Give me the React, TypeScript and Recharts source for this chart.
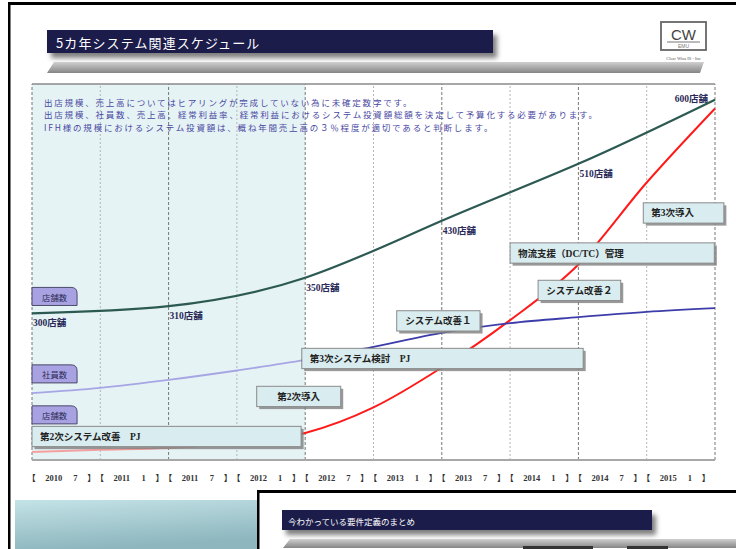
import React from "react";
import {
  ComposedChart,
  Line,
  XAxis,
  YAxis,
  ReferenceArea,
  ReferenceLine,
  LabelList,
} from "recharts";

// half-year points, 2010/7 .. 2015/7
const periods = [
  "2010 7", "2011 1", "2011 7", "2012 1", "2012 7", "2013 1",
  "2013 7", "2014 1", "2014 7", "2015 1", "2015 7",
];
// one label per half-year interval on the axis
const tickPeriods = periods.slice(0, 10);

// 店舗数 (labelled only once a year)
const storeCounts = [300, null, 310, null, 350, null, 430, null, 510, null, 600];
// 社員数 and 売上高 have no printed numbers: relative index
const staffIndex = [17.8, 19.2, 21.3, 23.8, 26.6, 30.1, 33.8, 36.4, 38.0, 39.4, 40.4];
const salesIndex = [2.1, 2.7, 3.2, 4.6, 7.2, 14.0, 24.6, 37.2, 52.0, 73.8, 93.5];

// schedule items: span in half-year steps, lane on the 0-100 index scale
const projectNames = [
  "第2次システム改善　PJ",
  "第2次導入",
  "第3次システム検討　PJ",
  "システム改善１",
  "システム改善２",
  "物流支援（DC/TC）管理",
  "第3次導入",
];
const projectStart = [0, 3.29, 3.95, 5.34, 7.41, 7.0, 8.95];
const projectEnd = [3.94, 4.52, 8.07, 6.56, 8.62, 9.99, 10.13];
const projectLane = [6.25, 16.9, 27.0, 37.0, 45.1, 55.05, 65.7];
const centeredNames = ["第2次導入", "システム改善１", "システム改善２"];

const tagNames = ["店舗数", "社員数", "店舗数"];
const tagLane = [43.5, 22.9, 12.0];

const notes = [
  "出店規模、売上高についてはヒアリングが完成していない為に未確定数字です。",
  "出店規模、社員数、売上高、経常利益率、経常利益におけるシステム投資額総額を決定して予算化する必要があります。",
  "IFH様の規模におけるシステム投資額は、概ね年間売上高の３％程度が適切であると判断します。",
];

const rows = periods.map((p, i) => ({
  x: i,
  period: p,
  stores: storeCounts[i],
  staff: staffIndex[i],
  sales: salesIndex[i],
}));

const JP = "'Noto Sans CJK JP', sans-serif";
const SERIF_JP = "'Liberation Serif', 'Noto Sans CJK JP', serif";

const PeriodTick = (props: any) => {
  const { x, y, payload } = props;
  const label = tickPeriods[Math.floor(payload.value)] || "";
  const [year, month] = label.split(" ");
  const common = {
    fontSize: 8.5,
    fontWeight: 700,
    fill: "#333",
    fontFamily: SERIF_JP,
    dominantBaseline: "central" as const,
  };
  const ty = y + 10;
  return (
    <g>
      <text x={x - 39} y={ty} {...common}>【</text>
      <text x={x - 21} y={ty} {...common}>{year}</text>
      <text x={x + 7} y={ty} {...common}>{month}</text>
      <text x={x + 21} y={ty} {...common}>】</text>
    </g>
  );
};

const StoreLabel = (props: any) => {
  const { x, y, value, index } = props;
  if (value == null) return null;
  const last = index === storeCounts.length - 1;
  return (
    <text
      x={last ? x - 7 : x + 1}
      y={last ? y - 1 : y + 10}
      textAnchor={last ? "end" : "start"}
      dominantBaseline="central"
      fontSize={9.5}
      fontWeight={700}
      fill="#2a2a58"
      fontFamily={SERIF_JP}
    >
      {value}店舗
    </text>
  );
};

const boxShape = (name: string) => (p: any) => {
  const { x, y, width, height } = p;
  const centered = centeredNames.includes(name);
  return (
    <g>
      <rect x={x + 2.5} y={y + 2.5} width={width} height={height} fill="#808080" opacity={0.8} />
      <rect x={x} y={y} width={width} height={height} fill="#d9ecef" stroke="#8a8a8a" strokeWidth={1} />
      <text
        x={centered ? x + width / 2 : x + 8}
        y={y + height / 2 + 0.5}
        textAnchor={centered ? "middle" : "start"}
        dominantBaseline="central"
        fontSize={9.5}
        fontWeight={700}
        fill="#222"
        fontFamily={SERIF_JP}
      >
        {name}
      </text>
    </g>
  );
};

const tagShape = (name: string) => (p: any) => {
  const { x, y, width, height } = p;
  const r = 6;
  const d = `M${x},${y + height} L${x},${y} L${x + width - r},${y} Q${x + width},${y} ${x + width},${y + r} L${x + width},${y + height} Z`;
  return (
    <g>
      <path d={d} fill="#a9a2e2" stroke="#4a4a6a" strokeWidth={1} />
      <text
        x={x + width / 2}
        y={y + height / 2 + 0.5}
        textAnchor="middle"
        dominantBaseline="central"
        fontSize={8.3}
        fill="#2a2a55"
        fontFamily={JP}
      >
        {name}
      </text>
    </g>
  );
};

function SlideFrame() {
  return (
    <svg
      width={736}
      height={549}
      style={{ position: "absolute", left: 0, top: 0, pointerEvents: "none" }}
    >
      <defs>
        <filter id="shadow" x="-10%" y="-30%" width="130%" height="190%">
          <feDropShadow dx="4" dy="5" stdDeviation="2.5" floodColor="#000" floodOpacity="0.5" />
        </filter>
        <linearGradient id="greyBar" x1="0" y1="0" x2="0" y2="1">
          <stop offset="0" stopColor="#d0d0d0" />
          <stop offset="1" stopColor="#858585" />
        </linearGradient>
        <linearGradient id="teal" x1="0" y1="0" x2="0.3" y2="1">
          <stop offset="0" stopColor="#c4e3e7" />
          <stop offset="1" stopColor="#8db6be" />
        </linearGradient>
      </defs>

      {/* outer slide frame */}
      <rect x={8} y={2} width={728} height={3} fill="#000" />
      <rect x={8} y={2} width={2.5} height={547} fill="#000" />

      {/* title */}
      <rect x={47} y={30} width={446} height={23} fill="#1b1b4b" filter="url(#shadow)" />
      <text x={56} y={42} dominantBaseline="central" fontSize={13} letterSpacing={1.1} fill="#fff" fontFamily={JP}>
        5カ年システム関連スケジュール
      </text>
      <polygon points="54,62 704,62 700,73 47,73" fill="url(#greyBar)" />

      {/* logo */}
      <rect x={661} y={22} width={45} height={28} fill="#fff" stroke="#666" strokeWidth={1.8} />
      <text x={683.5} y={34} textAnchor="middle" dominantBaseline="central" fontSize={15} fill="#444" fontFamily="'Liberation Sans', sans-serif">
        CW
      </text>
      <line x1={667} y1={42} x2={700} y2={42} stroke="#777" strokeWidth={1} />
      <text x={683.5} y={46} textAnchor="middle" dominantBaseline="central" fontSize={5} fill="#777" fontFamily="'Liberation Sans', sans-serif">
        EMU
      </text>
      <text x={683.5} y={58} textAnchor="middle" dominantBaseline="central" fontSize={4.5} fill="#555" fontFamily="'Liberation Serif', serif">
        Clear Wins IS - Inc
      </text>

      {/* notes */}
      {notes.map((t, i) => (
        <text key={i} x={44} y={102 + i * 12.4} dominantBaseline="central" fontSize={8.5} letterSpacing={1.8} fill="#4848a2" fontFamily={JP}>
          {t}
        </text>
      ))}

      {/* next slide peeking in */}
      <rect x={15} y={500} width={242} height={49} fill="url(#teal)" />
      <rect x={257} y={491} width={479} height={58} fill="#fff" />
      <rect x={257} y={490} width={479} height={3} fill="#000" />
      <rect x={257} y={490} width={2.5} height={59} fill="#000" />
      <rect x={282} y={510} width={370} height={20} fill="#1b1b4b" filter="url(#shadow)" />
      <text x={288} y={520.5} dominantBaseline="central" fontSize={8.5} fill="#fff" fontFamily={JP}>
        今わかっている要件定義のまとめ
      </text>
      <polygon points="290,539 736,539 736,548 283,548" fill="url(#greyBar)" />
      <rect x={523} y={546} width={70} height={3} fill="#333" />
      <rect x={627} y={546} width={41} height={3} fill="#333" />
    </svg>
  );
}

export default function App() {
  const gridXs = periods.map((_, i) => i);
  return (
    <div
      style={{
        position: "absolute",
        left: 0,
        top: 0,
        width: 736,
        height: 549,
        background: "#fff",
        overflow: "hidden",
      }}
    >
      <div style={{ position: "absolute", left: 0, top: 0 }}>
        <ComposedChart
          width={736}
          height={549}
          data={rows}
          margin={{ top: 84, right: 21, bottom: 59, left: 32 }}
        >
          <defs>
            <linearGradient id="salesStroke" x1="0" y1="0" x2="1" y2="0">
              <stop offset="0" stopColor="#f5a0a0" />
              <stop offset="0.394" stopColor="#f5a0a0" />
              <stop offset="0.394" stopColor="#ff1a1a" />
              <stop offset="1" stopColor="#ff1a1a" />
            </linearGradient>
            <linearGradient id="staffStroke" x1="0" y1="0" x2="1" y2="0">
              <stop offset="0" stopColor="#a6a6e4" />
              <stop offset="0.394" stopColor="#a6a6e4" />
              <stop offset="0.394" stopColor="#3c3caa" />
              <stop offset="1" stopColor="#3c3caa" />
            </linearGradient>
          </defs>
          <XAxis
            dataKey="x"
            type="number"
            domain={[0, 10]}
            ticks={tickPeriods.map((_, i) => i + 0.5)}
            interval={0}
            tick={<PeriodTick />}
            axisLine={false}
            tickLine={false}
            height={30}
          />
          <YAxis yAxisId="stores" domain={[94, 622]} hide />
          <YAxis yAxisId="pct" domain={[0, 100]} hide />

          <ReferenceArea
            yAxisId="pct"
            x1={0}
            x2={4}
            y1={0}
            y2={100}
            fill="#e6f3f5"
            fillOpacity={1}
            stroke="none"
            zIndex={-95}
          />
          {gridXs.map((gx) => (
            <ReferenceLine
              key={gx}
              yAxisId="pct"
              x={gx}
              stroke={gx % 2 === 0 ? "#777" : "#b5b5b5"}
              strokeDasharray={gx % 2 === 0 ? "3 2" : "2 2"}
              strokeWidth={1}
              zIndex={-90}
            />
          ))}
          <ReferenceLine yAxisId="pct" y={100} stroke="#8a8a8a" strokeWidth={1.5} zIndex={-90} />
          <ReferenceLine yAxisId="pct" y={0} stroke="#a8a8a8" strokeWidth={2} zIndex={-90} />

          <Line
            yAxisId="pct"
            dataKey="sales"
            type="monotone"
            stroke="url(#salesStroke)"
            strokeWidth={2}
            dot={false}
            isAnimationActive={false}
          />
          <Line
            yAxisId="pct"
            dataKey="staff"
            type="monotone"
            stroke="url(#staffStroke)"
            strokeWidth={1.8}
            dot={false}
            isAnimationActive={false}
          />
          <Line
            yAxisId="stores"
            dataKey="stores"
            type="natural"
            connectNulls
            stroke="#2c5a52"
            strokeWidth={2.2}
            dot={false}
            isAnimationActive={false}
          >
            <LabelList dataKey="stores" content={<StoreLabel />} />
          </Line>

          {projectNames.map((name, i) => (
            <ReferenceArea
              key={"p" + i}
              yAxisId="pct"
              x1={projectStart[i]}
              x2={projectEnd[i]}
              y1={projectLane[i] - 2.7}
              y2={projectLane[i] + 2.7}
              ifOverflow="visible"
              shape={boxShape(name)}
              zIndex={1500}
            />
          ))}
          {tagNames.map((name, i) => (
            <ReferenceArea
              key={"t" + i}
              yAxisId="pct"
              x1={0}
              x2={0.66}
              y1={tagLane[i] - 2.4}
              y2={tagLane[i] + 2.4}
              ifOverflow="visible"
              shape={tagShape(name)}
              zIndex={1500}
            />
          ))}
        </ComposedChart>
      </div>
      <SlideFrame />
    </div>
  );
}
